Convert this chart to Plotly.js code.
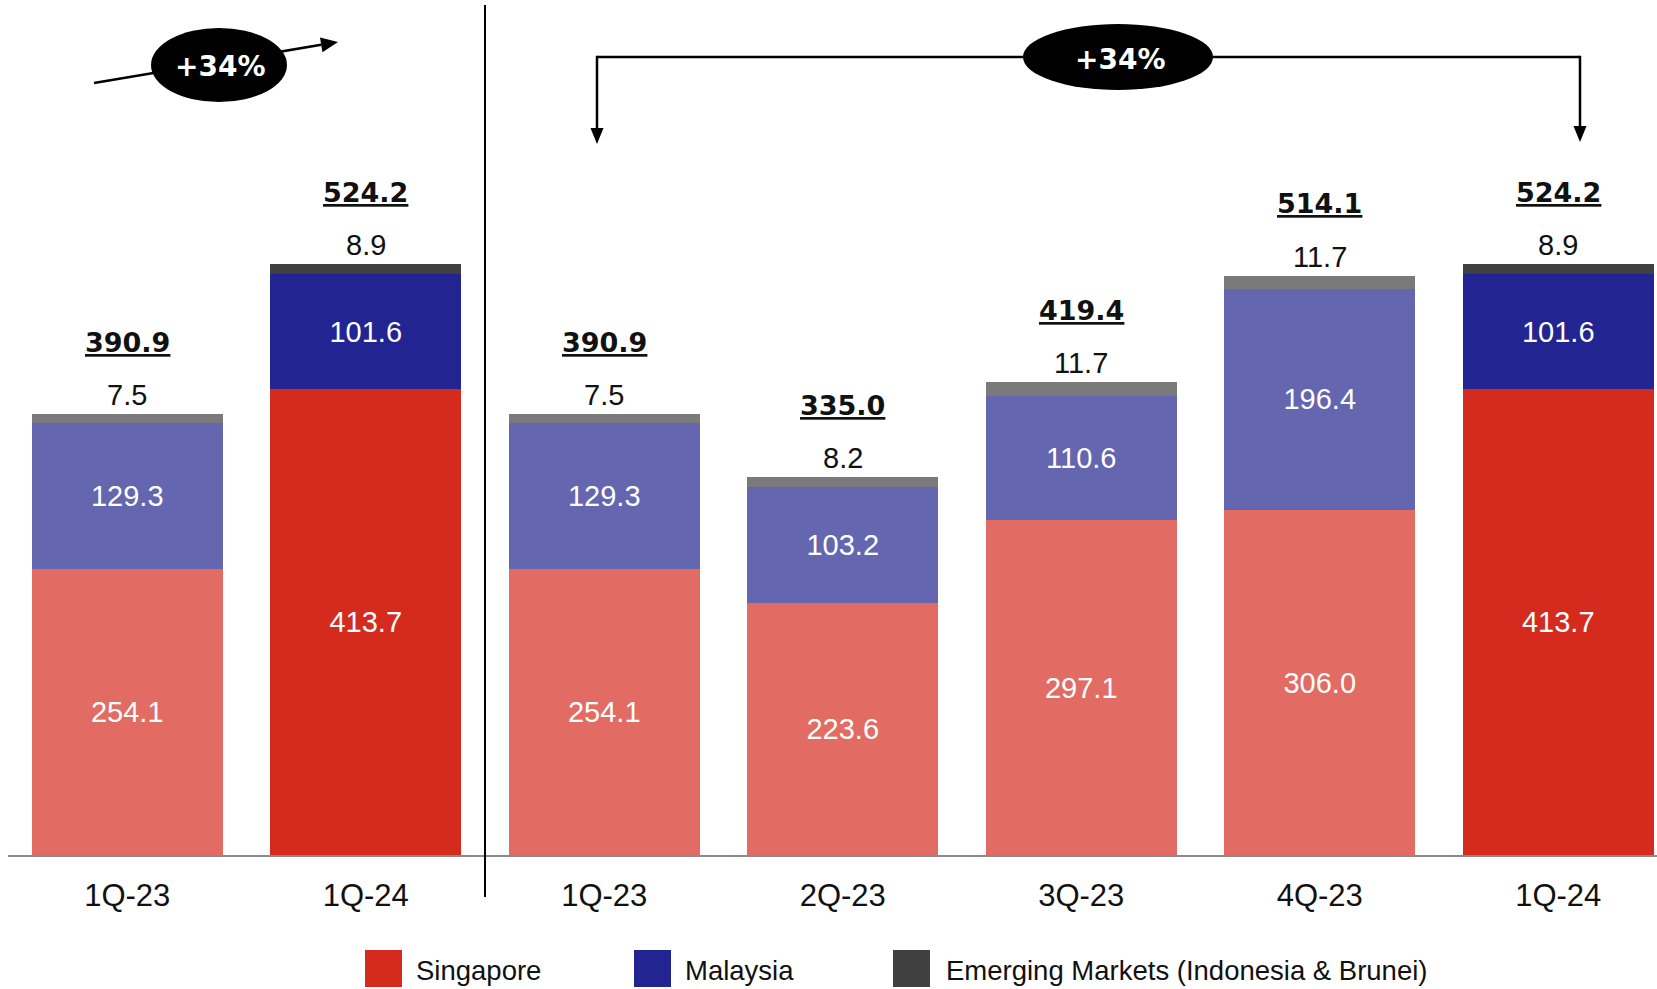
<!DOCTYPE html>
<html>
<head>
<meta charset="utf-8">
<script src="https://cdn.plot.ly/plotly-3.0.1.min.js"></script>
<style>
  html, body { margin: 0; padding: 0; background: #ffffff; }
  #chart { width: 1657px; height: 989px; }
</style>
</head>
<body>
<div id="chart"></div>
<script>
// Revenue by market, quarterly (stacked)
const categories = ['1Q-23', '1Q-24', '1Q-23', '2Q-23', '3Q-23', '4Q-23', '1Q-24'];
const singapore  = [254.1, 413.7, 254.1, 223.6, 297.1, 306.0, 413.7];
const malaysia   = [129.3, 101.6, 129.3, 103.2, 110.6, 196.4, 101.6];
const emerging   = [7.5, 8.9, 7.5, 8.2, 11.7, 11.7, 8.9];
const totals     = [390.9, 524.2, 390.9, 335.0, 419.4, 514.1, 524.2];
const seriesNames = ['Singapore', 'Malaysia', 'Emerging Markets (Indonesia & Brunei)'];
const growthLabel = '+34%';
const latestQuarter = '1Q-24';

const xs = categories.map((_, i) => i);
const isLatest = categories.map(c => c === latestQuarter);

const palette = {
  sg:  { dark: '#D52B1F', light: '#E26C63' },
  my:  { dark: '#222492', light: '#6466B0' },
  em:  { dark: '#404040', light: '#7A7A7A' }
};
const pick = key => isLatest.map(f => f ? palette[key].dark : palette[key].light);

const NUM_FONT = 'Liberation Sans, Arial, sans-serif';
const BOLD_FONT = 'DejaVu Sans, sans-serif';

const insideText = { family: NUM_FONT, size: 29, color: '#ffffff' };

const traces = [
  {
    type: 'bar', name: seriesNames[0], x: xs, y: singapore,
    marker: { color: pick('sg'), line: { width: 0 } },
    texttemplate: '%{y:.1f}', textposition: 'inside', insidetextanchor: 'middle',
    textfont: insideText, insidetextfont: insideText,
    constraintext: 'none', hoverinfo: 'skip', showlegend: false
  },
  {
    type: 'bar', name: seriesNames[1], x: xs, y: malaysia,
    marker: { color: pick('my'), line: { width: 0 } },
    texttemplate: '%{y:.1f}', textposition: 'inside', insidetextanchor: 'middle',
    textfont: insideText, insidetextfont: insideText,
    constraintext: 'none', hoverinfo: 'skip', showlegend: false
  },
  {
    type: 'bar', name: seriesNames[2], x: xs, y: emerging,
    marker: { color: pick('em'), line: { width: 0 } },
    textposition: 'none', hoverinfo: 'skip', showlegend: false
  }
];

// plot area in page pixels, used to place decorations
const W = 1657, H = 989;
const PL = 8, PR = 1657, PT = 0, PB = 855;
const px = x => (x - PL) / (PR - PL);
const py = y => (PB - y) / (PB - PT);

const annotations = [];
const shapes = [];

// value labels: emerging markets just above each bar, bold underlined totals above that
xs.forEach((x, i) => {
  annotations.push({
    x: x, y: totals[i], xref: 'x', yref: 'y', yshift: 19,
    xanchor: 'center', yanchor: 'middle',
    text: emerging[i].toFixed(1), showarrow: false,
    font: { family: NUM_FONT, size: 29, color: '#111111' }
  });
  annotations.push({
    x: x, y: totals[i], xref: 'x', yref: 'y', yshift: 72,
    xanchor: 'center', yanchor: 'middle',
    text: '<b><u>' + totals[i].toFixed(1) + '</u></b>', showarrow: false,
    font: { family: BOLD_FONT, size: 27, color: '#111111' }
  });
});

// divider between the year-on-year pair and the quarterly run
shapes.push({
  type: 'line', xref: 'x', yref: 'paper', x0: 1.5, x1: 1.5, y0: py(897), y1: py(5),
  line: { color: '#000000', width: 2 }
});

// helpers for arrows drawn in page pixels
function segment(x0, y0, x1, y1, w) {
  shapes.push({
    type: 'line', xref: 'paper', yref: 'paper',
    x0: px(x0), y0: py(y0), x1: px(x1), y1: py(y1),
    line: { color: '#000000', width: w }
  });
}
function arrowHead(tx, ty, fx, fy, len, half) {
  const dx = tx - fx, dy = ty - fy, L = Math.hypot(dx, dy);
  const ux = dx / L, uy = dy / L, nx = -uy, ny = ux;
  const bx = tx - ux * len, by = ty - uy * len;
  const p = (a, b) => px(a).toFixed(5) + ',' + py(b).toFixed(5);
  shapes.push({
    type: 'path', xref: 'paper', yref: 'paper',
    path: 'M' + p(tx, ty) + ' L' + p(bx + nx * half, by + ny * half) +
          ' L' + p(bx - nx * half, by - ny * half) + ' Z',
    fillcolor: '#000000', line: { width: 0 }
  });
  return [bx, by];
}
function ellipse(cx, cy, rx, ry) {
  shapes.push({
    type: 'circle', xref: 'paper', yref: 'paper',
    x0: px(cx - rx), x1: px(cx + rx), y0: py(cy + ry), y1: py(cy - ry),
    fillcolor: '#000000', line: { width: 0 }
  });
}
function badge(cx, cy) {
  annotations.push({
    x: px(cx), y: py(cy), xref: 'paper', yref: 'paper', showarrow: false,
    xanchor: 'center', yanchor: 'middle',
    text: '<b>' + growthLabel + '</b>',
    font: { family: BOLD_FONT, size: 28, color: '#ffffff' }
  });
}

// left: diagonal growth arrow with badge
{
  const tail = [94, 83], tip = [338, 42];
  const base = arrowHead(tip[0], tip[1], tail[0], tail[1], 17, 7.5);
  segment(tail[0], tail[1], base[0], base[1], 2.5);
  ellipse(219, 65, 68, 37);
  badge(220, 67);
}

// right: bracket from first to last quarter with badge
{
  const yTop = 57, xl = 597, xr = 1580;
  segment(xl, yTop, xr, yTop, 2.5);
  const bl = arrowHead(xl, 144, xl, yTop, 16, 6.5);
  const br = arrowHead(xr, 142, xr, yTop, 16, 6.5);
  segment(xl, yTop - 1.2, xl, bl[1], 2.5);
  segment(xr, yTop - 1.2, xr, br[1], 2.5);
  ellipse(1118, 57, 95, 33);
  badge(1120, 59);
}

// legend: swatches and labels
const legendItems = [
  { x: 365, textX: 414, color: palette.sg.dark },
  { x: 634, textX: 683, color: palette.my.dark },
  { x: 893, textX: 944, color: palette.em.dark }
];
legendItems.forEach((it, i) => {
  shapes.push({
    type: 'rect', xref: 'paper', yref: 'paper',
    x0: px(it.x), x1: px(it.x + 37), y0: py(987), y1: py(950),
    fillcolor: it.color, line: { width: 0 }
  });
  annotations.push({
    x: px(it.textX), y: py(970), xref: 'paper', yref: 'paper',
    xanchor: 'left', yanchor: 'middle', showarrow: false,
    text: seriesNames[i],
    font: { family: 'Liberation Sans, Arial, sans-serif', size: 27.5, color: '#111111' }
  });
});

const layout = {
  width: W, height: H,
  margin: { l: PL, r: W - PR, t: PT, b: H - PB, pad: 0 },
  paper_bgcolor: '#ffffff', plot_bgcolor: '#ffffff',
  barmode: 'stack', bargap: 0.2,
  showlegend: false,
  xaxis: {
    range: [-0.5, (PR - PL) / 238.5 - 0.5],
    tickmode: 'array', tickvals: xs, ticktext: categories,
    tickfont: { family: NUM_FONT, size: 31, color: '#111111' },
    ticks: '', ticklabelstandoff: 12,
    showline: true, linecolor: '#8a8a8a', linewidth: 2,
    showgrid: false, zeroline: false, fixedrange: true
  },
  yaxis: {
    range: [0, (PB - PT) / 1.127],
    visible: false, showgrid: false, zeroline: false, fixedrange: true
  },
  annotations: annotations,
  shapes: shapes,
  uniformtext: { mode: false }
};

Plotly.newPlot('chart', traces, layout, { staticPlot: true, displayModeBar: false });
</script>
</body>
</html>
